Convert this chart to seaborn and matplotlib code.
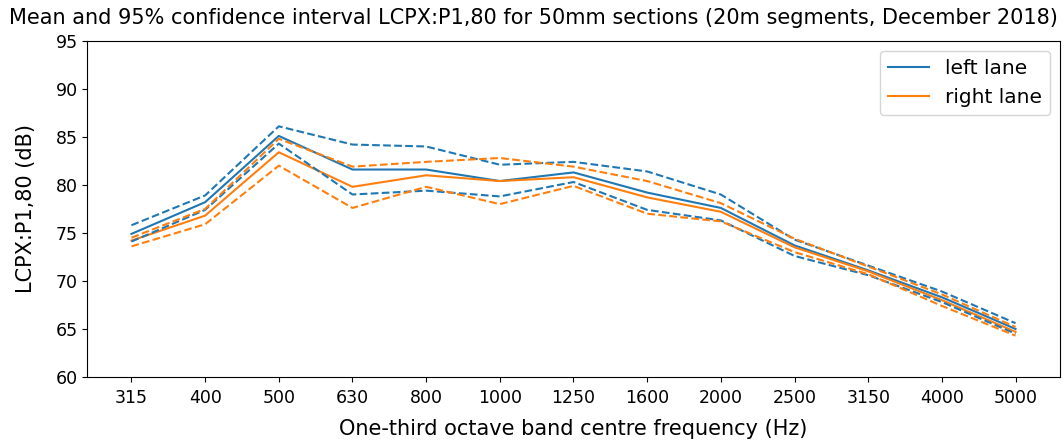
import matplotlib
matplotlib.use("Agg")
import matplotlib.pyplot as plt
import seaborn as sns
import numpy as np
import pandas as pd

freqs = ["315", "400", "500", "630", "800", "1000", "1250", "1600", "2000", "2500", "3150", "4000", "5000"]
left_mean = [74.9, 78.2, 85.1, 81.6, 81.6, 80.4, 81.3, 79.2, 77.6, 73.7, 71.1, 68.3, 65.0]
left_upper = [75.8, 78.9, 86.1, 84.2, 84.0, 82.1, 82.4, 81.4, 79.0, 74.3, 71.6, 68.9, 65.6]
left_lower = [74.1, 77.4, 84.3, 79.0, 79.4, 78.8, 80.3, 77.4, 76.3, 72.6, 70.6, 67.8, 64.5]
right_mean = [74.2, 76.8, 83.4, 79.8, 81.0, 80.4, 80.8, 78.7, 77.2, 73.5, 71.0, 68.0, 64.7]
right_upper = [74.5, 77.5, 84.8, 81.9, 82.4, 82.8, 81.9, 80.4, 78.1, 74.4, 71.5, 68.6, 65.2]
right_lower = [73.6, 75.9, 82.0, 77.6, 79.8, 78.0, 79.9, 77.0, 76.2, 73.0, 70.7, 67.4, 64.3]

plt.rcParams['font.family'] = ['DejaVu Sans']
plt.rcParams['font.size'] = 12.5

fig = plt.figure(figsize=(10.64, 4.44), dpi=100)
ax = fig.add_axes([0.082, 0.151, 0.914, 0.757])

pos = np.arange(len(freqs))
blue = "#1f77b4"
orange = "#ff7f0e"

sns.lineplot(x=pos, y=left_mean, ax=ax, color=blue, label="left lane", lw=1.5)
sns.lineplot(x=pos, y=right_mean, ax=ax, color=orange, label="right lane", lw=1.5)
for arr, c in [(left_upper, blue), (left_lower, blue), (right_upper, orange), (right_lower, orange)]:
    sns.lineplot(x=pos, y=arr, ax=ax, color=c, lw=1.5, linestyle="--", legend=False)

ax.set_xticks(pos)
ax.set_xticklabels(freqs)
ax.set_xlim(-0.6, len(freqs) - 1 + 0.6)
ax.set_ylim(60, 95)
ax.set_yticks(np.arange(60, 96, 5))
ax.tick_params(labelsize=12.5)
ax.tick_params(axis="x", pad=5)
ax.set_xlabel("One-third octave band centre frequency (Hz)", fontsize=15, labelpad=9)
ax.set_ylabel("LCPX:P1,80 (dB)", fontsize=15, labelpad=14)
fig.suptitle("Mean and 95% confidence interval LCPX:P1,80 for 50mm sections (20m segments, December 2018)",
             fontsize=15, x=0.501, y=0.982, va="top")
ax.legend(loc="upper right", fontsize=14.5)

fig.savefig("out.png", dpi=100)
